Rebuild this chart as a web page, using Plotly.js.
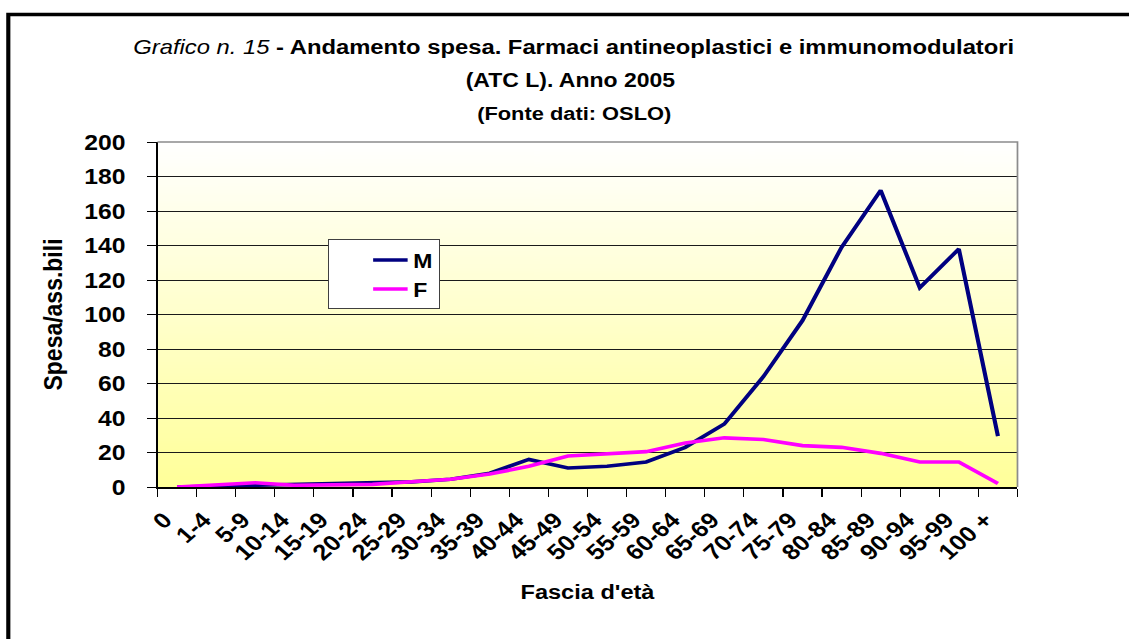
<!DOCTYPE html>
<html>
<head>
<meta charset="utf-8">
<script src="https://cdn.plot.ly/plotly-3.0.1.min.js"></script>
<style>
  html, body { margin: 0; padding: 0; overflow: hidden; background: #fff; }
  #wrap { width: 1129px; height: 639px; overflow: hidden; }
  #chart { width: 982px; height: 639px; transform: scaleX(1.1497); transform-origin: 0 0; }
</style>
</head>
<body>
<div id="wrap"><div id="chart"></div></div>
<script>
// ---- data ----
const ageGroups = ['0','1-4','5-9','10-14','15-19','20-24','25-29','30-34','35-39','40-44','45-49',
                   '50-54','55-59','60-64','65-69','70-74','75-79','80-84','85-89','90-94','95-99','100 +'];
const spesaM = [0, 0.5, 1, 1, 2, 2, 3, 4.5, 8, 16, 11, 12, 14.5, 23, 36.5, 64, 96.5, 139, 172, 115.5, 138, 29.5];
const spesaF = [0, 1, 2.5, 1, 1, 1.5, 3, 4.5, 7.5, 12, 18, 19, 20.5, 25.5, 28.5, 27.5, 24, 23, 19.5, 14.5, 14.5, 2];
const yTicks = [0, 20, 40, 60, 80, 100, 120, 140, 160, 180, 200];

const FONT = 'Liberation Sans, Arial, sans-serif';

// gradient background for the plot area
const cv = document.createElement('canvas');
cv.width = 8; cv.height = 256;
const ctx = cv.getContext('2d');
const g = ctx.createLinearGradient(0, 0, 0, 256);
g.addColorStop(0, '#FFFFFF');
g.addColorStop(1, '#FFFF99');
ctx.fillStyle = g;
ctx.fillRect(0, 0, 8, 256);
const bgURL = cv.toDataURL('image/png');

const traces = [
  { type: 'scatter', mode: 'lines', name: 'M', x: ageGroups, y: spesaM,
    line: { color: '#000080', width: 3.6 } },
  { type: 'scatter', mode: 'lines', name: 'F', x: ageGroups, y: spesaF,
    line: { color: '#FF00FF', width: 3.6 } }
];

const layout = {
  width: 982, height: 639,
  margin: { l: 136.5, r: 96.8, t: 142, b: 152 },
  paper_bgcolor: '#FFFFFF',
  plot_bgcolor: 'rgba(0,0,0,0)',
  font: { family: FONT, color: '#000000' },
  showlegend: true,
  legend: {
    x: 0.1986, y: 0.616, xanchor: 'left', yanchor: 'middle',
    bgcolor: '#FFFFFF', bordercolor: '#404040', borderwidth: 1,
    font: { family: FONT, size: 20, weight: 'bold', color: '#000' },
    indentation: 33, tracegroupgap: 0, entrywidth: 100, entrywidthmode: 'pixels'
  },
  xaxis: {
    type: 'category', range: [-0.5, 21.5],
    tickson: 'boundaries', ticks: 'outside', ticklen: 8, tickcolor: '#000', tickwidth: 1,
    showgrid: false, showline: true, linecolor: '#000', linewidth: 1.5,
    tickangle: -45, ticklabelshift: -11, ticklabelstandoff: 10,
    tickfont: { family: FONT, size: 22, weight: 'bold', color: '#000' },
    title: { text: "Fascia d'età", standoff: 20,
             font: { family: FONT, size: 20.5, weight: 'bold', color: '#000' } },
    fixedrange: true
  },
  yaxis: {
    range: [0, 200], tickvals: yTicks, ticktext: yTicks.map(String),
    ticks: 'outside', ticklen: 8, tickcolor: '#000', tickwidth: 1,
    showgrid: true, gridcolor: '#1a1a1a', gridwidth: 1, zeroline: false,
    showline: true, linecolor: '#000', linewidth: 1.5,
    ticklabelstandoff: 14,
    tickfont: { family: FONT, size: 21.5, weight: 'bold', color: '#000' },
    title: { text: 'Spesa/ass.bili', standoff: 12,
             font: { family: FONT, size: 23, weight: 'bold', color: '#000' } },
    fixedrange: true
  },
  images: [{
    source: bgURL, xref: 'paper', yref: 'paper', x: 0, y: 1, sizex: 1, sizey: 1,
    xanchor: 'left', yanchor: 'top', sizing: 'stretch', layer: 'below'
  }],
  shapes: [
    // outer frame (left and top visible)
    { type: 'path', xref: 'paper', yref: 'paper',
      path: 'M -0.1735,-0.6 L -0.1735,1.3696 L 1.3,1.3696',
      line: { color: '#000', width: 3.6 } },
    // plot area border top/right (gray)
    { type: 'path', xref: 'paper', yref: 'paper',
      path: 'M 0,1 L 1,1 L 1,0',
      line: { color: '#8c8c8c', width: 1.5 } }
  ],
  annotations: [
    { xref: 'paper', yref: 'paper', x: 0.4843, y: 1.2754, xanchor: 'center', yanchor: 'middle',
      showarrow: false,
      text: '<i>Grafico n. 15</i><b> - Andamento spesa. Farmaci antineoplastici e immunomodulatori</b>',
      font: { family: FONT, size: 20.7, color: '#000' } },
    { xref: 'paper', yref: 'paper', x: 0.4800, y: 1.1797, xanchor: 'center', yanchor: 'middle',
      showarrow: false, text: '<b>(ATC L). Anno 2005</b>',
      font: { family: FONT, size: 20, color: '#000' } },
    { xref: 'paper', yref: 'paper', x: 0.4843, y: 1.0812, xanchor: 'center', yanchor: 'middle',
      showarrow: false, text: '<b>(Fonte dati: OSLO)</b>',
      font: { family: FONT, size: 19, color: '#000' } }
  ]
};

Plotly.newPlot('chart', traces, layout, { staticPlot: true, displayModeBar: false });
</script>
</body>
</html>
